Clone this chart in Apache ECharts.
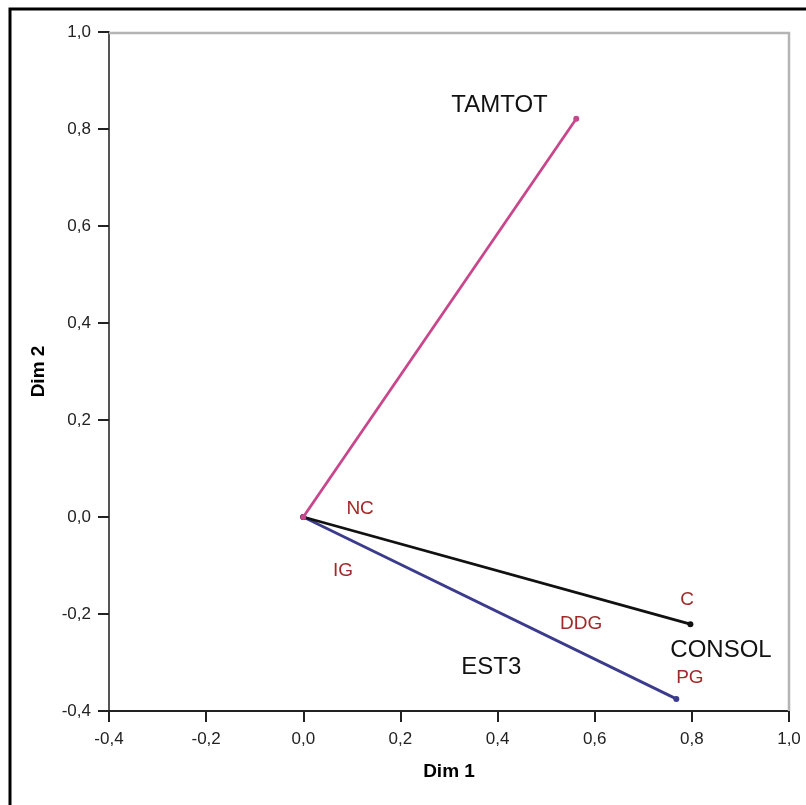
<!DOCTYPE html>
<html>
<head>
<meta charset="utf-8">
<script src="https://cdn.jsdelivr.net/npm/echarts@6/dist/echarts.min.js"></script>
<style>
html,body{margin:0;padding:0;background:#fff;}
#chart{width:806px;height:805px;}
</style>
</head>
<body>
<div id="chart"></div>
<script>
// Variable vectors (discrimination measures), drawn from the origin
const variableNames = ['EST3', 'CONSOL', 'TAMTOT'];
const variableX = [0.768, 0.797, 0.562];
const variableY = [-0.375, -0.221, 0.821];
const variableColors = ['#3b3b8e', '#111111', '#c8478c'];

// Where the variable names sit
const nameX = [0.387, 0.860, 0.404];
const nameY = [-0.311, -0.274, 0.849];

// Category labels
const categoryNames = ['NC', 'IG', 'C', 'DDG', 'PG'];
const categoryX = [0.117, 0.082, 0.790, 0.572, 0.796];
const categoryY = [0.016, -0.111, -0.171, -0.221, -0.332];

// Axis ticks
const tickMin = -0.4, tickMax = 1.0, tickStep = 0.2;

const fmt = v => v.toFixed(1).replace('.', ',');

const lineSeries = variableNames.map((n, i) => ({
  type: 'line',
  name: n,
  data: [[0, 0], [variableX[i], variableY[i]]],
  symbol: 'circle',
  symbolSize: 6,
  showSymbol: true,
  lineStyle: { color: variableColors[i], width: 2.8 },
  itemStyle: { color: variableColors[i] },
  z: 3 + i,
  silent: true
}));

const chart = echarts.init(document.getElementById('chart'), null, { renderer: 'canvas' });
chart.setOption({
  animation: false,
  backgroundColor: '#fff',
  grid: { left: 109, right: 17, top: 32, bottom: 94, show: false },
  graphic: [
    { type: 'rect', shape: { x: 10, y: 9, width: 900, height: 900 },
      style: { fill: 'none', stroke: '#000', lineWidth: 3 }, z: 0 },
    { type: 'polyline', shape: { points: [[109, 33], [789, 33], [789, 711]] },
      style: { stroke: '#b4b4b4', lineWidth: 2.5, fill: 'none' }, z: 1 }
  ],
  xAxis: {
    type: 'value', min: tickMin, max: tickMax, interval: tickStep,
    name: 'Dim 1', nameLocation: 'middle', nameGap: 51,
    nameTextStyle: { fontFamily: 'Liberation Sans', fontWeight: 'bold', fontSize: 19, color: '#000' },
    axisLine: { show: true, onZero: false, lineStyle: { color: '#222', width: 2 } },
    axisTick: { show: true, length: 11, lineStyle: { color: '#222', width: 2 } },
    axisLabel: { formatter: fmt, fontFamily: 'Liberation Sans', fontSize: 17, color: '#222', margin: 20 },
    splitLine: { show: false }
  },
  yAxis: {
    type: 'value', min: tickMin, max: tickMax, interval: tickStep,
    name: 'Dim 2', nameLocation: 'middle', nameGap: 61, nameRotate: 90,
    nameTextStyle: { fontFamily: 'Liberation Sans', fontWeight: 'bold', fontSize: 19, color: '#000' },
    axisLine: { show: true, onZero: false, lineStyle: { color: '#555', width: 2 } },
    axisTick: { show: true, length: 11, lineStyle: { color: '#222', width: 2 } },
    axisLabel: { formatter: fmt, fontFamily: 'Liberation Sans', fontSize: 17, color: '#222', margin: 18 },
    splitLine: { show: false }
  },
  series: lineSeries.concat([
    {
      type: 'scatter',
      data: variableNames.map((n, i) => ({ value: [nameX[i], nameY[i]], name: n })),
      symbolSize: 0,
      silent: true,
      itemStyle: { opacity: 1 },
      label: { show: true, position: 'inside', formatter: p => p.name,
        fontFamily: 'Liberation Sans', fontSize: 24, color: '#111' },
      z: 10
    },
    {
      type: 'scatter',
      data: categoryNames.map((n, i) => ({ value: [categoryX[i], categoryY[i]], name: n })),
      symbolSize: 0,
      silent: true,
      itemStyle: { opacity: 1 },
      label: { show: true, position: 'inside', formatter: p => p.name,
        fontFamily: 'Liberation Sans', fontSize: 19, color: '#a02a2a' },
      z: 10
    }
  ])
});
</script>
</body>
</html>
